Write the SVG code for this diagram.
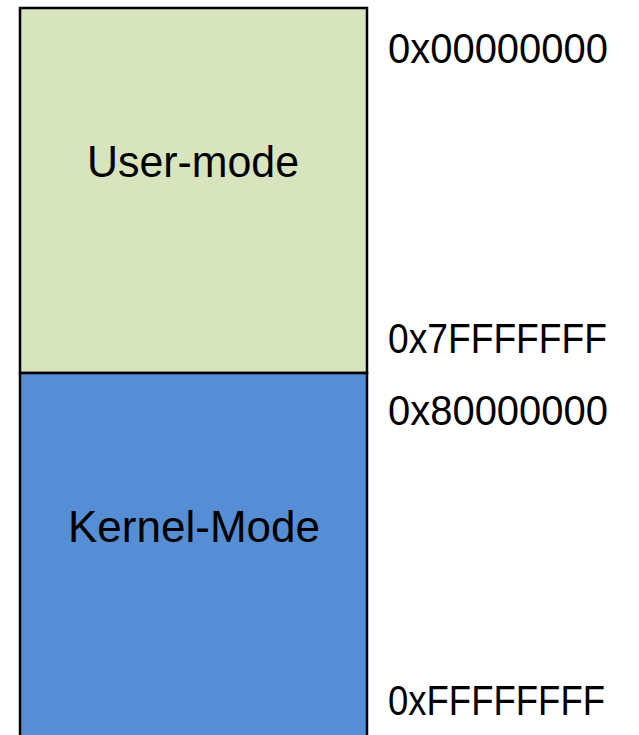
<svg xmlns="http://www.w3.org/2000/svg" width="639" height="735" viewBox="0 0 639 735">
  <style>
    .region { stroke: #000; stroke-width: 2.5; }
    .user { fill: #D7E4BD; }
    .kernel { fill: #558ED5; }
    .label { font-family: "Liberation Sans", Arial, sans-serif; font-size: 44px; fill: #000; }
    .addr { font-family: "Liberation Sans", Arial, sans-serif; font-size: 42px; fill: #000; }
  </style>
  <rect width="639" height="735" fill="#fff"/>
  <g id="user-mode">
    <rect class="region user" x="20" y="8" width="347" height="365"/>
    <text class="label" x="193" y="177" text-anchor="middle" textLength="212" lengthAdjust="spacingAndGlyphs">User-mode</text>
  </g>
  <g id="kernel-mode">
    <rect class="region kernel" x="20" y="373" width="347" height="380"/>
    <text class="label" x="194" y="542" text-anchor="middle" textLength="252" lengthAdjust="spacingAndGlyphs">Kernel-Mode</text>
  </g>
  <g id="addresses">
    <text class="addr" x="388" y="63" textLength="220" lengthAdjust="spacingAndGlyphs">0x00000000</text>
    <text class="addr" x="388" y="353" textLength="219" lengthAdjust="spacingAndGlyphs">0x7FFFFFFF</text>
    <text class="addr" x="388" y="425" textLength="220" lengthAdjust="spacingAndGlyphs">0x80000000</text>
    <text class="addr" x="388" y="715" textLength="217" lengthAdjust="spacingAndGlyphs">0xFFFFFFFF</text>
  </g>
  <g id="connectors"/>
</svg>
